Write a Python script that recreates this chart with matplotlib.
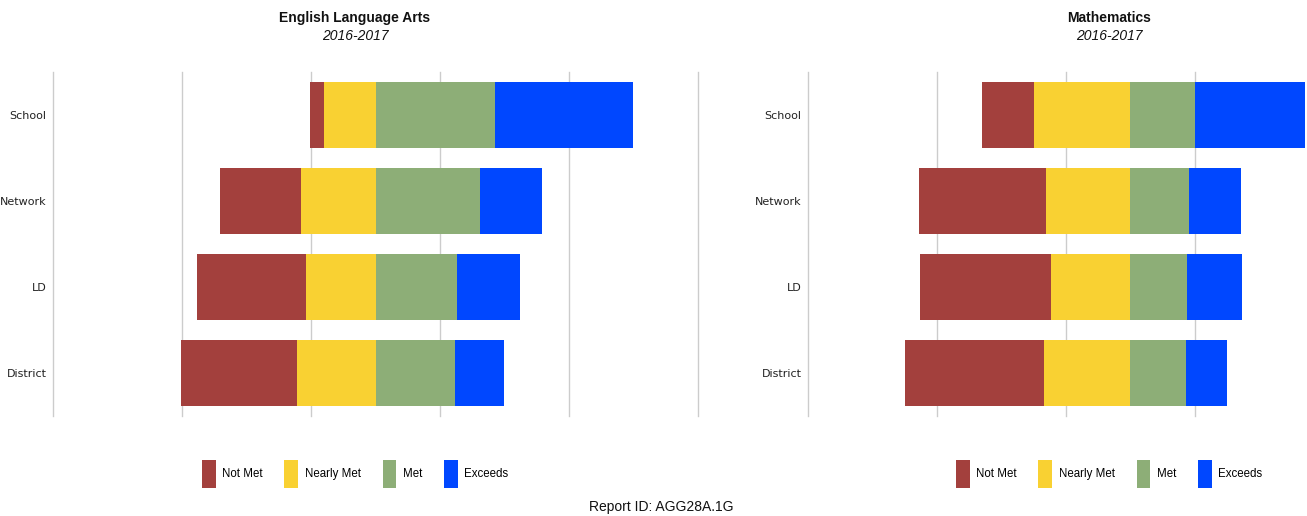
import matplotlib.pyplot as plt
from matplotlib.patches import Patch
import numpy as np

groups = ["School", "Network", "LD", "District"]
levels = ["Not Met", "Nearly Met", "Met", "Exceeds"]
colors = ["#A3403D", "#F9D132", "#8DAE77", "#0047FF"]

# percentages, order: School, Network, LD, District
ela_not_met = [4.4, 25.2, 33.5, 36.1]
ela_nearly = [15.9, 23.1, 21.7, 24.2]
ela_met = [37.2, 32.4, 25.2, 24.8]
ela_exceeds = [42.5, 19.2, 19.5, 14.9]

math_not_met = [16.0, 39.6, 40.7, 43.2]
math_nearly = [29.9, 26.1, 24.7, 26.8]
math_met = [20.1, 18.0, 17.6, 17.3]
math_exceeds = [34.0, 16.3, 17.1, 12.6]

grid_ticks = [-100, -60, -20, 20, 60, 100]


def draw(ax, nm, nr, mt, ex):
    nm = np.array(nm); nr = np.array(nr); mt = np.array(mt); ex = np.array(ex)
    y = np.arange(len(groups))
    ax.barh(y, nm, left=-(nm + nr), height=0.76, color=colors[0])
    ax.barh(y, nr, left=-nr, height=0.76, color=colors[1])
    ax.barh(y, mt, left=0, height=0.76, color=colors[2])
    ax.barh(y, ex, left=mt, height=0.76, color=colors[3])
    ax.set_xlim(-100, 100)
    ax.set_ylim(len(groups) - 0.5, -0.5)
    ax.set_yticks(y)
    ax.set_yticklabels(groups, fontsize=8, color="#222222")
    ax.set_xticks(grid_ticks)
    ax.set_xticklabels([])
    ax.tick_params(length=0, pad=4.5)
    ax.grid(axis="x", color="#cccccc", linewidth=1)
    for gl in ax.get_xgridlines():
        gl.set_clip_on(False)
    ax.set_axisbelow(True)
    for s in ax.spines.values():
        s.set_visible(False)


fig = plt.figure(figsize=(13.07, 5.16), dpi=100)
W, H = 1307.0, 516.0
ax1 = fig.add_axes([53 / W, 1 - 416 / H, 645 / W, 344 / H])
ax2 = fig.add_axes([808 / W, 1 - 416 / H, 645 / W, 344 / H])

draw(ax1, ela_not_met, ela_nearly, ela_met, ela_exceeds)
draw(ax2, math_not_met, math_nearly, math_met, math_exceeds)

font = "Liberation Sans"
for cx, title in [(355, "English Language Arts"), (1109, "Mathematics")]:
    fig.text(cx / W, 1 - 18 / H, title, ha="center", va="center",
             fontsize=10, fontweight="bold", family=font, color="#111111")
    fig.text(cx / W, 1 - 36 / H, "2016-2017", ha="center", va="center",
             fontsize=10, style="italic", family=font, color="#111111")

    handles = [Patch(facecolor=c, edgecolor="none") for c in colors]
    fig.legend(handles, levels, loc="center", bbox_to_anchor=(cx / W, 1 - 474 / H),
               ncol=4, frameon=False, prop={"family": font, "size": 8.3},
               handlelength=1.2, handleheight=3.35, handletextpad=0.55,
               columnspacing=1.9, borderpad=0)

fig.text(661 / W, 1 - 507 / H, "Report ID: AGG28A.1G", ha="center", va="center",
         fontsize=10, family=font, color="#111111")

plt.savefig("out.png", dpi=100)
